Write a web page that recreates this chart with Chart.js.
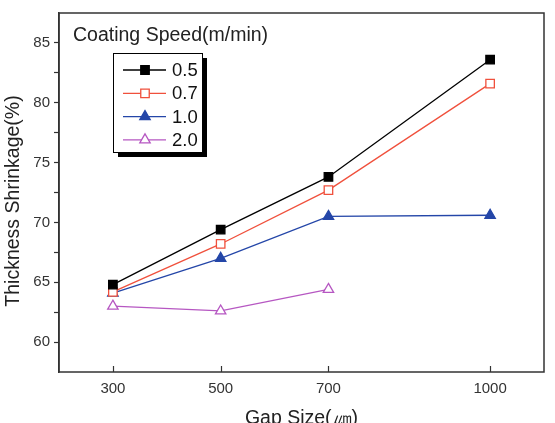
<!DOCTYPE html>
<html>
<head>
<meta charset="utf-8">
<script src="https://cdn.jsdelivr.net/npm/chart.js@4/dist/chart.umd.min.js"></script>
<style>
  body { margin: 0; background: #fff; }
  #wrap { width: 555px; height: 423px; position: relative; }
</style>
</head>
<body>
<div id="wrap"><canvas id="chart"></canvas></div>
<script>
// data
const gapSizes = [300, 500, 700, 1000];
const speedLabels = ['0.5', '0.7', '1.0', '2.0'];
const speed05 = [64.8, 69.4, 73.8, 83.6];
const speed07 = [64.2, 68.2, 72.7, 81.6];
const speed10 = [64.1, 67.0, 70.5, 70.6];
const speed20 = [63.0, 62.6, 64.4];
const yTicks = [60, 62.5, 65, 67.5, 70, 72.5, 75, 77.5, 80, 82.5, 85];
const xTicks = [300, 500, 700, 1000];

const font = "'Liberation Sans', Arial, sans-serif";

function toPoints(values) {
    return values.map((v, i) => ({ x: gapSizes[i], y: v }));
}

function series(label, values, color, style, fill) {
    return {
        label: label,
        data: toPoints(values),
        borderColor: color,
        borderWidth: 1.3,
        pointStyle: style,
        pointRadius: 6,
        pointHoverRadius: 6,
        pointBorderWidth: 1.3,
        pointBorderColor: color,
        pointBackgroundColor: fill,
        tension: 0
    };
}

// frame, inward x ticks, y title and the boxed legend
const decorations = {
    id: 'decorations',
    afterDraw(chart) {
        const ctx = chart.ctx;
        const a = chart.chartArea;
        const xs = chart.scales.x;
        ctx.save();
        ctx.strokeStyle = '#333';
        ctx.lineWidth = 1.5;
        ctx.strokeRect(a.left, a.top, a.right - a.left, a.bottom - a.top);

        ctx.lineWidth = 1.2;
        xTicks.forEach(t => {
            const px = Math.round(xs.getPixelForValue(t)) + 0.5;
            ctx.beginPath();
            ctx.moveTo(px, a.bottom);
            ctx.lineTo(px, a.bottom - 6);
            ctx.stroke();
        });

        // y axis title
        ctx.save();
        ctx.translate(14, 201);
        ctx.rotate(-Math.PI / 2);
        ctx.fillStyle = '#222';
        ctx.font = '19.5px ' + font;
        ctx.textAlign = 'center';
        ctx.textBaseline = 'middle';
        ctx.fillText('Thickness Shrinkage(%)', 0, 0);
        ctx.restore();

        // legend heading
        ctx.fillStyle = '#222';
        ctx.font = '19.5px ' + font;
        ctx.textBaseline = 'middle';
        ctx.textAlign = 'left';
        ctx.fillText('Coating Speed(m/min)', 73, 36);

        // legend box with shadow
        const bx = 113, by = 53, bw = 89, bh = 99;
        ctx.fillStyle = '#000';
        ctx.fillRect(bx + 5, by + 5, bw, bh);
        ctx.fillStyle = '#fff';
        ctx.fillRect(bx, by, bw, bh);
        ctx.strokeStyle = '#000';
        ctx.lineWidth = 1;
        ctx.strokeRect(bx + 0.5, by + 0.5, bw, bh);

        chart.data.datasets.forEach((ds, i) => {
            const y = 70 + i * 23.3;
            ctx.strokeStyle = ds.borderColor;
            ctx.lineWidth = 1.3;
            ctx.beginPath();
            ctx.moveTo(123, y);
            ctx.lineTo(166, y);
            ctx.stroke();
            ctx.fillStyle = ds.pointBackgroundColor;
            Chart.helpers.drawPoint(ctx, {
                pointStyle: ds.pointStyle,
                radius: 6,
                rotation: 0,
                borderWidth: 1.3
            }, 145, y);
            ctx.fillStyle = '#111';
            ctx.font = '18.5px ' + font;
            ctx.fillText(ds.label, 172, y + 1);
        });
        ctx.restore();
    }
};

new Chart(document.getElementById('chart'), {
    type: 'line',
    data: {
        datasets: [
            series(speedLabels[0], speed05, '#000000', 'rect', '#000000'),
            series(speedLabels[1], speed07, '#f0503c', 'rect', '#ffffff'),
            series(speedLabels[2], speed10, '#2446a8', 'triangle', '#2446a8'),
            series(speedLabels[3], speed20, '#b657c2', 'triangle', '#ffffff')
        ]
    },
    options: {
        responsive: true,
        maintainAspectRatio: false,
        animation: false,
        layout: { padding: { left: 0, right: 11, top: 5, bottom: 0 } },
        plugins: {
            legend: { display: false },
            tooltip: { enabled: false }
        },
        scales: {
            x: {
                type: 'linear',
                min: 200,
                max: 1100,
                afterBuildTicks: scale => { scale.ticks = xTicks.map(v => ({ value: v })); },
                afterFit: scale => { scale.height = 51; },
                grid: { display: false, drawTicks: false },
                border: { display: false },
                ticks: {
                    color: '#333',
                    padding: 8,
                    font: { family: font, size: 15 },
                    maxRotation: 0,
                    callback: v => String(v)
                },
                title: {
                    display: true,
                    text: 'Gap Size(㎛)',
                    color: '#222',
                    font: { family: font, size: 19.5 },
                    padding: { top: 0, bottom: -7 }
                }
            },
            y: {
                min: 57.5,
                max: 87.5,
                afterBuildTicks: scale => { scale.ticks = yTicks.map(v => ({ value: v })); },
                afterFit: scale => { scale.width = 59; },
                grid: {
                    drawOnChartArea: false,
                    tickLength: 5,
                    tickColor: '#333',
                    tickWidth: 1.2
                },
                border: { display: true, color: '#333', width: 1.5 },
                ticks: {
                    color: '#333',
                    padding: 4,
                    font: { family: font, size: 15 },
                    callback: v => (v % 5 === 0 ? String(v) : '')
                },
                title: { display: false }
            }
        }
    },
    plugins: [decorations]
});
</script>
</body>
</html>
